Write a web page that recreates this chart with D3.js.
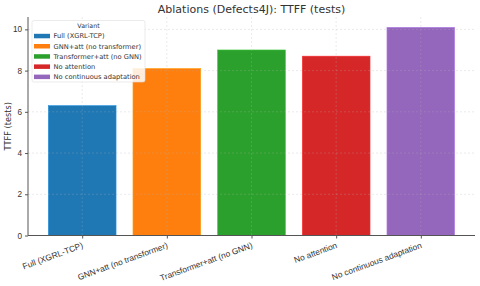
<!DOCTYPE html>
<html lang="en">
<head>
<meta charset="UTF-8">
<script src="https://d3js.org/d3.v7.min.js"></script>
<style>
    body { margin: 0; background: #fff; }
    svg { display: block; font-family: "DejaVu Sans", sans-serif; }
    .grid line { stroke: #b0b0b0; stroke-opacity: 0.45; stroke-dasharray: 2,2; stroke-width: 0.6; }
    .tick text { fill: #333; }
</style>
</head>
<body>
<svg id="chart" width="480" height="286"></svg>
<script>
    // data
    const variants = ["Full (XGRL-TCP)", "GNN+att (no transformer)", "Transformer+att (no GNN)", "No attention", "No continuous adaptation"];
    const ttff = [6.3, 8.1, 9.0, 8.7, 10.1];
    const colors = ["#1f77b4", "#ff7f0e", "#2ca02c", "#d62728", "#9467bd"];
    const yTicks = [0, 2, 4, 6, 8, 10];

    const svg = d3.select("#chart");
    const plotL = 28, plotR = 475, plotT = 17, plotB = 235.5;

    // band layout like matplotlib: bar width 0.8, margin 0.05
    const x = d3.scaleLinear().domain([-0.64, variants.length - 1 + 0.64]).range([plotL, plotR]);
    const y = d3.scaleLinear().domain([0, 10.6]).range([plotB, plotT]);
    const bw = x(0.8) - x(0);

    // bars
    svg.append("g").selectAll("rect").data(ttff).join("rect")
        .attr("x", (d, i) => x(i) - bw / 2)
        .attr("y", d => y(d))
        .attr("width", bw)
        .attr("height", d => y(0) - y(d))
        .attr("fill", (d, i) => colors[i])
        .attr("stroke", (d, i) => d3.color(colors[i]).brighter(0.6))
        .attr("stroke-width", 0.6);

    // grid (on top, faint)
    const grid = svg.append("g").attr("class", "grid");
    grid.selectAll("line.h").data(yTicks.slice(1)).join("line")
        .attr("x1", plotL).attr("x2", plotR)
        .attr("y1", d => y(d)).attr("y2", d => y(d));
    grid.selectAll("line.v").data(variants).join("line")
        .attr("x1", (d, i) => x(i)).attr("x2", (d, i) => x(i))
        .attr("y1", plotT).attr("y2", plotB);

    // y axis
    const yAxis = svg.append("g").attr("transform", `translate(${plotL},0)`)
        .call(d3.axisLeft(y).tickValues(yTicks).tickSize(3).tickPadding(3));
    yAxis.select(".domain").attr("stroke", "#555").attr("stroke-width", 1)
        .attr("d", `M0,${plotT}V${plotB}`);
    yAxis.selectAll(".tick line").attr("stroke", "#555");
    yAxis.selectAll(".tick text").attr("font-size", 8.2);

    // x axis
    const xAxis = svg.append("g").attr("transform", `translate(0,${plotB})`)
        .call(d3.axisBottom(x).tickValues(d3.range(variants.length)).tickFormat(i => variants[i]).tickSize(3).tickPadding(3));
    xAxis.select(".domain").attr("stroke", "#555").attr("stroke-width", 1)
        .attr("d", `M${plotL},0H${plotR}`);
    xAxis.selectAll(".tick line").attr("stroke", "#555");
    xAxis.selectAll(".tick text")
        .attr("font-size", 8.4)
        .attr("text-anchor", "end")
        .attr("dy", "0.7em")
        .attr("transform", "translate(-3,1) rotate(-20)");

    // labels
    svg.append("text").attr("x", (plotL + plotR) / 2).attr("y", 13)
        .attr("text-anchor", "middle").attr("font-size", 11).attr("fill", "#333")
        .text("Ablations (Defects4J): TTFF (tests)");
    svg.append("text").attr("transform", `translate(11,${(plotT + plotB) / 2}) rotate(-90)`)
        .attr("text-anchor", "middle").attr("font-size", 8.2).attr("fill", "#333")
        .text("TTFF (tests)");

    // legend
    const lg = svg.append("g").attr("transform", "translate(32,20.5)");
    lg.append("rect").attr("width", 113).attr("height", 61.5).attr("rx", 2)
        .attr("fill", "#fff").attr("fill-opacity", 0.85).attr("stroke", "#ddd").attr("stroke-width", 0.6);
    lg.append("text").attr("x", 56.5).attr("y", 7.5).attr("text-anchor", "middle")
        .attr("font-size", 6.3).attr("fill", "#333").text("Variant");
    variants.forEach((v, i) => {
        const ey = 15.5 + i * 10.2;
        lg.append("rect").attr("x", 2).attr("y", ey - 2.2).attr("width", 16).attr("height", 4.5).attr("fill", colors[i]);
        lg.append("text").attr("x", 21.5).attr("y", ey + 2.4).attr("font-size", 6.7).attr("fill", "#333").text(v);
    });
</script>
</body>
</html>
